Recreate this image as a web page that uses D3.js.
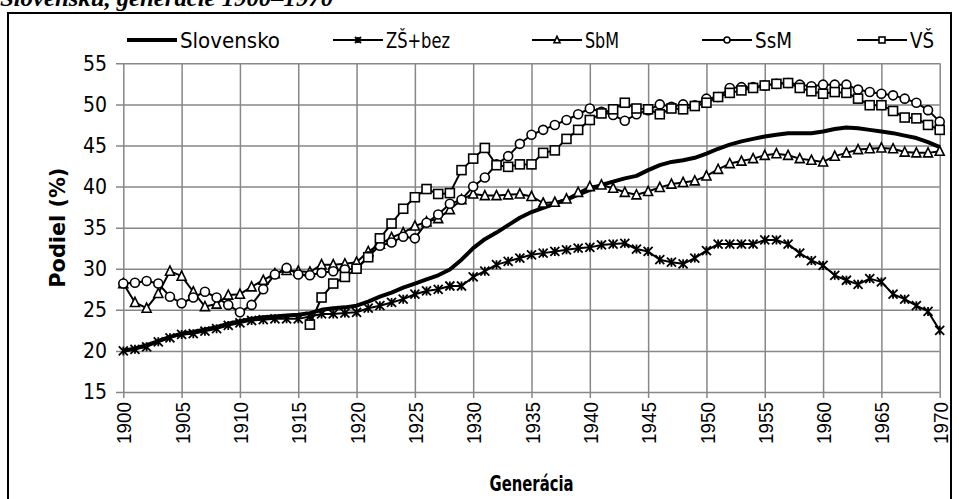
<!DOCTYPE html>
<html>
<head>
<meta charset="utf-8">
<script src="https://cdn.jsdelivr.net/npm/d3@7"></script>
<style>
  body { margin: 0; background: #fff; }
  svg text { font-family: "DejaVu Sans Condensed", "DejaVu Sans", sans-serif; }
</style>
</head>
<body>
<div id="chart"></div>
<script>
// categories (generations)
const years = d3.range(1900, 1971);
const xTicks = [1900, 1905, 1910, 1915, 1920, 1925, 1930, 1935, 1940, 1945, 1950, 1955, 1960, 1965, 1970];
const yTicks = [15, 20, 25, 30, 35, 40, 45, 50, 55];

// share (%) by generation
const slovensko = [
  20.0, 20.3, 20.7, 21.2, 21.7, 22.1, 22.3, 22.6, 22.9, 23.3,
  23.6, 23.9, 24.1, 24.2, 24.3, 24.4, 24.6, 25.0, 25.2, 25.3,
  25.5, 26.0, 26.6, 27.1, 27.7, 28.2, 28.7, 29.2, 29.9, 31.1,
  32.5, 33.6, 34.4, 35.3, 36.2, 36.9, 37.4, 37.9, 38.4, 39.0,
  39.6, 40.2, 40.6, 41.0, 41.3, 42.0, 42.6, 43.0, 43.2, 43.5,
  44.0, 44.6, 45.1, 45.5, 45.8, 46.1, 46.3, 46.5, 46.5, 46.5,
  46.7, 47.0, 47.2, 47.1, 46.9, 46.7, 46.5, 46.2, 45.9, 45.4,
  44.8
];
const zsBez = [
  20.0, 20.2, 20.5, 21.1, 21.6, 22.0, 22.1, 22.4, 22.7, 23.1,
  23.4, 23.7, 23.8, 23.9, 23.9, 23.9, 24.2, 24.5, 24.5, 24.6,
  24.7, 25.2, 25.5, 25.9, 26.3, 26.9, 27.3, 27.5, 27.9, 27.9,
  29.0, 29.7, 30.5, 30.9, 31.3, 31.7, 31.9, 32.1, 32.3, 32.5,
  32.6, 32.9, 33.0, 33.1, 32.4, 32.1, 31.1, 30.8, 30.6, 31.3,
  32.2, 33.0, 33.0, 33.0, 33.0, 33.5, 33.5, 33.0, 31.9, 31.0,
  30.4, 29.2, 28.6, 28.1, 28.8, 28.4, 26.9, 26.3, 25.5, 24.8,
  22.5
];
const sbm = [
  28.2, 25.9, 25.2, 27.0, 29.7, 29.1, 27.2, 25.4, 25.7, 26.8,
  26.9, 27.8, 28.6, 29.4, 29.8, 29.7, 29.6, 30.5, 30.5, 30.6,
  30.8, 32.1, 33.0, 33.8, 34.4, 35.2, 35.7, 36.1, 37.2, 38.4,
  39.1, 38.9, 38.9, 39.0, 39.1, 38.8, 38.0, 38.1, 38.5, 39.3,
  40.0, 40.2, 39.8, 39.3, 39.0, 39.4, 39.9, 40.3, 40.5, 40.7,
  41.3, 42.1, 42.8, 43.1, 43.4, 43.8, 44.0, 43.8, 43.4, 43.2,
  43.0, 43.7, 44.1, 44.5, 44.6, 44.7, 44.6, 44.2, 44.1, 44.1,
  44.3
];
const ssm = [
  28.2, 28.3, 28.5, 28.2, 26.6, 25.8, 26.5, 27.2, 26.5, 25.6,
  24.7, 25.6, 27.5, 29.3, 30.1, 29.3, 29.2, 29.5, 29.7, 29.9,
  30.0, 31.5, 32.8, 33.2, 33.9, 33.7, 35.6, 36.6, 37.9, 38.4,
  40.0, 41.1, 42.7, 43.7, 45.2, 46.3, 46.9, 47.5, 48.1, 48.8,
  49.5, 49.1, 48.7, 48.0, 48.8, 49.3, 50.0, 49.7, 50.0, 49.9,
  50.7, 50.9, 52.0, 52.1, 52.1, 52.3, 52.5, 52.6, 52.4, 52.2,
  52.4, 52.4, 52.4, 51.8, 51.5, 51.3, 51.1, 50.7, 50.2, 49.3,
  47.9
];
const vs = [
  null, null, null, null, null, null, null, null, null, null,
  null, null, null, null, null, null, 23.2, 26.5, 28.2, 29.0,
  30.0, 31.4, 33.7, 35.5, 37.3, 38.7, 39.7, 39.1, 39.2, 42.0,
  43.4, 44.7, 42.6, 42.4, 42.7, 42.7, 44.1, 44.4, 45.8, 46.9,
  48.1, 48.9, 49.4, 50.2, 49.5, 49.4, 48.8, 49.5, 49.4, 49.8,
  50.2, 50.9, 51.4, 51.7, 52.0, 52.3, 52.5, 52.6, 52.0, 51.6,
  51.3, 51.5, 51.4, 50.7, 49.9, 49.9, 49.2, 48.4, 48.3, 47.5,
  46.9
];

const series = [
  { label: "Slovensko", values: slovensko, marker: null, width: 4 },
  { label: "ZŠ+bez", values: zsBez, marker: "star", width: 2 },
  { label: "SbM", values: sbm, marker: "triangle", width: 2 },
  { label: "SsM", values: ssm, marker: "circle", width: 2 },
  { label: "VŠ", values: vs, marker: "square", width: 2 },
];

const W = 959, H = 499;
const plot = { left: 123.3, right: 939.7, top: 63.3, bottom: 392 };

const svg = d3.select("#chart").append("svg")
  .attr("width", W).attr("height", H)
  .attr("viewBox", `0 0 ${W} ${H}`);

// caption line, cut off at the top like in the source
svg.append("text")
  .attr("x", 0).attr("y", 6)
  .style("font-family", "Liberation Serif, serif")
  .style("font-weight", "bold").style("font-style", "italic")
  .style("font-size", "23px")
  .attr("textLength", 333).attr("lengthAdjust", "spacingAndGlyphs")
  .text("Slovensku, generácie 1900–1970");

// chart frame
svg.append("rect")
  .attr("x", 8).attr("y", 13).attr("width", 943).attr("height", 520)
  .attr("fill", "none").attr("stroke", "#000").attr("stroke-width", 2);

const x = d3.scaleLinear().domain([1900, 1970]).range([plot.left, plot.right]);
const y = d3.scaleLinear().domain([15, 55]).range([plot.bottom, plot.top]);

const gridColor = "#878787";

// y axis + horizontal grid
svg.append("g")
  .attr("transform", `translate(116,0)`)
  .call(d3.axisLeft(y).tickValues(yTicks).tickSize(-(plot.right - 116)).tickPadding(9))
  .call(ax => ax.select(".domain").remove())
  .call(ax => ax.selectAll(".tick line").attr("stroke", gridColor).attr("stroke-width", 1.5))
  .call(ax => ax.selectAll("text")
    .style("font-size", "21px").attr("fill", "#000"));

// x axis + vertical grid
svg.append("g")
  .attr("transform", `translate(0,398)`)
  .call(d3.axisBottom(x).tickValues(xTicks).tickFormat(d3.format("d")).tickSize(-(398 - plot.top)))
  .call(ax => ax.select(".domain").remove())
  .call(ax => ax.selectAll(".tick line").attr("stroke", gridColor).attr("stroke-width", 1.5))
  .call(ax => ax.selectAll("text")
    .attr("transform", "rotate(-90)")
    .attr("x", -4).attr("y", 0).attr("dy", "0.36em")
    .attr("text-anchor", "end")
    .attr("textLength", 42).attr("lengthAdjust", "spacingAndGlyphs")
    .style("font-family", "Liberation Sans, sans-serif")
    .style("font-size", "21px").attr("fill", "#000"));

// axis titles
svg.append("text")
  .attr("transform", `translate(65,${(plot.top + plot.bottom) / 2}) rotate(-90)`)
  .attr("text-anchor", "middle")
  .style("font-weight", "bold").style("font-size", "22px")
  .attr("textLength", 120).attr("lengthAdjust", "spacingAndGlyphs")
  .text("Podiel (%)");

svg.append("text")
  .attr("x", (plot.left + plot.right) / 2).attr("y", 491)
  .attr("text-anchor", "middle")
  .style("font-weight", "bold").style("font-size", "22px")
  .attr("textLength", 84).attr("lengthAdjust", "spacingAndGlyphs")
  .text("Generácia");

// markers
function drawMarker(sel, type, s) {
  if (type === "circle") {
    sel.append("circle").attr("r", s / 2)
      .attr("fill", "#fff").attr("stroke", "#000").attr("stroke-width", 1.6);
  } else if (type === "square") {
    sel.append("rect").attr("x", -s / 2).attr("y", -s / 2).attr("width", s).attr("height", s)
      .attr("fill", "#fff").attr("stroke", "#000").attr("stroke-width", 1.6);
  } else if (type === "triangle") {
    const h = s * 0.9;
    sel.append("path")
      .attr("d", `M0,${-h / 2 - 1}L${s / 2},${h / 2}L${-s / 2},${h / 2}Z`)
      .attr("fill", "#fff").attr("stroke", "#000").attr("stroke-width", 1.6);
  } else if (type === "star") {
    const r = s / 2;
    sel.append("path")
      .attr("d", `M${-r},${-r}L${r},${r}M${-r},${r}L${r},${-r}M0,${-r}L0,${r}`)
      .attr("fill", "none").attr("stroke", "#000").attr("stroke-width", 1.8);
  }
}

const line = d3.line()
  .defined(d => d != null)
  .x((_, i) => x(years[i]))
  .y(d => y(d));

series.forEach(s => {
  svg.append("path")
    .datum(s.values)
    .attr("fill", "none")
    .attr("stroke", "#000")
    .attr("stroke-width", s.width)
    .attr("stroke-linejoin", "round")
    .attr("d", line);

  if (s.marker) {
    const pts = s.values.map((v, i) => ({ v, yr: years[i] })).filter(d => d.v != null);
    svg.append("g").selectAll("g")
      .data(pts).enter().append("g")
      .attr("transform", d => `translate(${x(d.yr)},${y(d.v)})`)
      .each(function () { drawMarker(d3.select(this), s.marker, 9); });
  }
});

// legend
const legendX = [127, 333, 532, 702, 857];
const legendW = [100, 64, 34, 37, 24];
const legendY = 40;
series.forEach((s, i) => {
  const g = svg.append("g").attr("transform", `translate(${legendX[i]},${legendY})`);
  g.append("line").attr("x1", 0).attr("x2", 50)
    .attr("stroke", "#000").attr("stroke-width", s.width);
  if (s.marker) {
    const m = g.append("g").attr("transform", "translate(25,0)");
    drawMarker(m, s.marker, 6);
  }
  g.append("text")
    .attr("x", 53).attr("y", 0).attr("dy", "0.36em")
    .style("font-size", "22px")
    .attr("textLength", legendW[i]).attr("lengthAdjust", "spacingAndGlyphs")
    .text(s.label);
});
</script>
</body>
</html>
